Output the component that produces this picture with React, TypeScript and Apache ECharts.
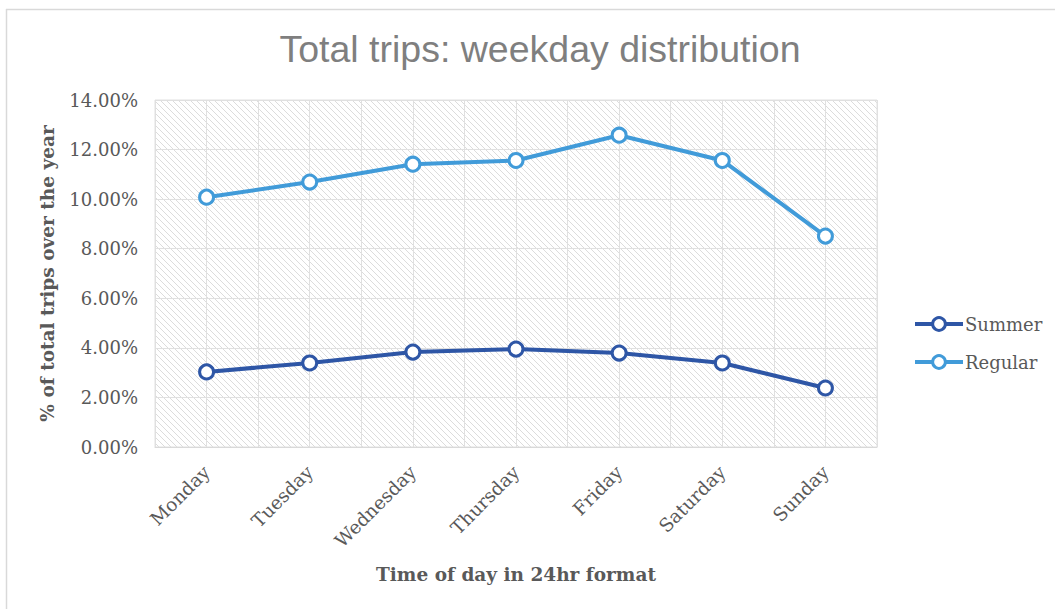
import React, { useEffect, useRef } from "react";
import * as echarts from "echarts";

const days = ["Monday", "Tuesday", "Wednesday", "Thursday", "Friday", "Saturday", "Sunday"];
const summer = [3.03, 3.39, 3.83, 3.95, 3.79, 3.39, 2.38];
const regular = [10.08, 10.69, 11.41, 11.56, 12.58, 11.56, 8.51];
const yTicks = { min: 0, max: 14, interval: 2 };

const SERIF = "'DejaVu Serif', serif";

function makeHatch() {
  const c = document.createElement("canvas");
  const s = 6;
  c.width = s;
  c.height = s;
  const ctx = c.getContext("2d")!;
  ctx.fillStyle = "#ffffff";
  ctx.fillRect(0, 0, s, s);
  ctx.strokeStyle = "#dcdcdc";
  ctx.lineWidth = 1;
  ctx.beginPath();
  ctx.moveTo(-1, -1);
  ctx.lineTo(s + 1, s + 1);
  ctx.moveTo(-1, s - 1);
  ctx.lineTo(1, s + 1);
  ctx.moveTo(s - 1, -1);
  ctx.lineTo(s + 1, 1);
  ctx.stroke();
  return c;
}

export default function App() {
  const ref = useRef<HTMLDivElement>(null);
  useEffect(() => {
    const chart = echarts.init(ref.current!, null, { renderer: "svg" });
    const hatch = makeHatch();
    chart.setOption({
      animation: false,
      backgroundColor: "#ffffff",
      title: {
        text: "Total trips: weekday distribution",
        left: 535,
        textAlign: "center",
        top: 25,
        textStyle: {
          fontFamily: "'Liberation Sans', Arial, sans-serif",
          fontSize: 37.5,
          fontWeight: "normal",
          color: "#7f7f7f",
        },
      },
      graphic: [
        { type: "line", shape: { x1: 6, y1: 9.5, x2: 1055, y2: 9.5 }, style: { stroke: "#d9d9d9", lineWidth: 1.5 } },
        { type: "line", shape: { x1: 6.5, y1: 9, x2: 6.5, y2: 609 }, style: { stroke: "#d9d9d9", lineWidth: 1.5 } },
      ],
      legend: {
        orient: "vertical",
        left: 908,
        top: 310,
        itemGap: 20,
        itemWidth: 48,
        itemHeight: 16,
        lineStyle: { width: 4 },
        itemStyle: { borderWidth: 3 },
        textStyle: { fontFamily: SERIF, fontSize: 18, color: "#595959", padding: [0, 0, 0, -3] },
        data: ["Summer", "Regular"],
      },
      grid: {
        left: 155,
        top: 100,
        width: 722,
        height: 347,
        show: true,
        borderWidth: 1,
        borderColor: "#e0e0e0",
        backgroundColor: { image: hatch, repeat: "repeat" },
      },
      xAxis: [
        {
          type: "category",
          data: days,
          boundaryGap: true,
          axisLine: { show: true, lineStyle: { color: "#d9d9d9" } },
          axisTick: { show: false },
          splitLine: { show: false },
          axisLabel: {
            rotate: 45,
            interval: 0,
            margin: 22,
            fontFamily: SERIF,
            fontSize: 18.5,
            color: "#595959",
          },
          name: "Time of day in 24hr format",
          nameLocation: "middle",
          nameGap: 118,
          nameTextStyle: { fontFamily: SERIF, fontSize: 18.5, fontWeight: "bold", color: "#595959" },
        },
        {
          type: "value",
          position: "top",
          min: 0,
          max: 14,
          interval: 1,
          axisLine: { show: false },
          axisTick: { show: false },
          axisLabel: { show: false },
          splitLine: { show: true, lineStyle: { color: "#e0e0e0", width: 1 } },
        },
      ],
      yAxis: {
        type: "value",
        min: yTicks.min,
        max: yTicks.max,
        interval: yTicks.interval,
        axisLine: { show: false },
        axisTick: { show: false },
        axisLabel: {
          margin: 17,
          fontFamily: SERIF,
          fontSize: 18,
          color: "#595959",
          formatter: (v: number) => v.toFixed(2) + "%",
        },
        splitLine: { show: true, lineStyle: { color: "#e0e0e0", width: 1 } },
        name: "% of total trips over the year",
        nameLocation: "middle",
        nameGap: 98,
        nameRotate: 90,
        nameTextStyle: { fontFamily: SERIF, fontSize: 18.5, fontWeight: "bold", color: "#595959" },
      },
      series: [
        {
          name: "Summer",
          type: "line",
          data: summer,
          symbol: "circle",
          symbolSize: 14,
          lineStyle: { color: "#2e56a6", width: 4 },
          itemStyle: { color: "#ffffff", borderColor: "#2e56a6", borderWidth: 3 },
          z: 3,
        },
        {
          name: "Regular",
          type: "line",
          data: regular,
          symbol: "circle",
          symbolSize: 14,
          lineStyle: { color: "#419bd9", width: 4 },
          itemStyle: { color: "#ffffff", borderColor: "#419bd9", borderWidth: 3 },
          z: 3,
        },
      ],
    });
    return () => chart.dispose();
  }, []);
  return (
    <div
      ref={ref}
      style={{ position: "absolute", left: 0, top: 0, width: 1055, height: 609 }}
    />
  );
}
